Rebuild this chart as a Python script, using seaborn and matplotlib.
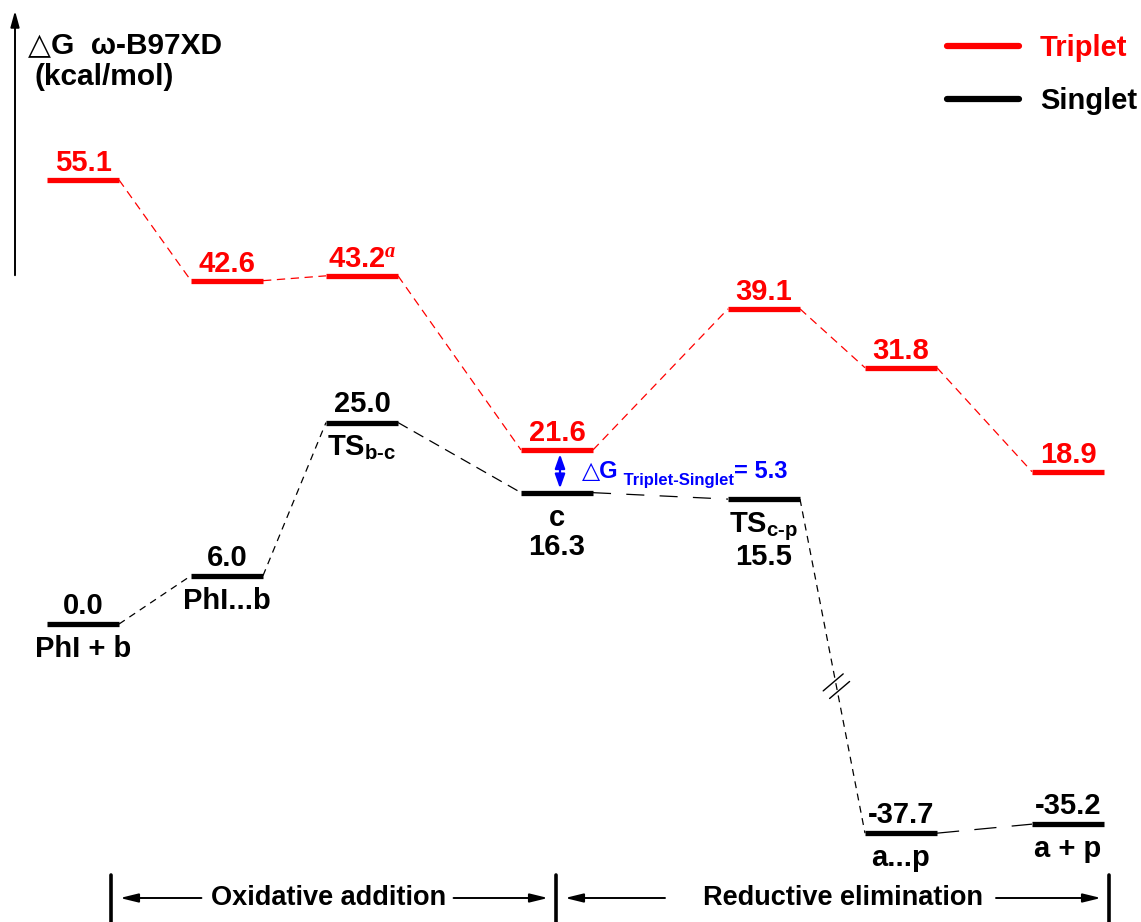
import numpy as np
import pandas as pd
import matplotlib
matplotlib.use("Agg")
import matplotlib.pyplot as plt
from matplotlib.lines import Line2D
from matplotlib.transforms import IdentityTransform
import seaborn as sns

# ---- data -------------------------------------------------------------
triplet_energy = [55.1, 42.6, 43.2, 21.6, 39.1, 31.8, 18.9]
singlet_energy = [0.0, 6.0, 25.0, 16.3, 15.5, -37.7, -35.2]
singlet_names = ["PhI + b", "PhI...b", "TS$_{\\text{b-c}}$", "c",
                 "TS$_{\\text{c-p}}$", "a...p", "a + p"]
triplet_marks = ["", "", "$^{\\mathit{a}}$", "", "", "", ""]
phase_names = ["Oxidative addition", "Reductive elimination"]
series_names = ["Triplet", "Singlet"]

# ---- layout ------------------------------------------------------------
rc_pos = [83, 227, 362, 557, 764, 901, 1068]      # reaction-coordinate slots
half_w = 36                                       # half width of a level
value_above = [True, True, True, False, False, True, True]
phase_bounds = [111, 556, 1109]
phase_centers = [329, 843]
phase_gaps = [(10, 7), (38, 13)]                 # space between text and arrows
BREAK, SQUEEZE = -16.4, 0.448                     # compress the deep region

RED, BLACK, BLUE = "#ff0000", "#000000", "#0000ff"

sns.set_theme(style="white")
plt.rcParams["font.family"] = ["Liberation Sans", "DejaVu Sans"]
plt.rcParams["font.weight"] = "bold"
plt.rcParams["mathtext.fontset"] = "custom"
plt.rcParams["mathtext.rm"] = "Liberation Sans:bold"
plt.rcParams["mathtext.bf"] = "Liberation Sans:bold"
plt.rcParams["mathtext.it"] = "Liberation Serif:italic"
plt.rcParams["lines.scale_dashes"] = False


def fwd(v):
    v = np.asarray(v, float)
    return np.where(v >= BREAK, v, BREAK + SQUEEZE * (v - BREAK))


def inv(u):
    u = np.asarray(u, float)
    return np.where(u >= BREAK, u, BREAK + (u - BREAK) / SQUEEZE)


fig = plt.figure(figsize=(11.41, 9.22), dpi=100)
ax = fig.add_axes([0, 0, 1, 1])
ax.set_yscale("function", functions=(fwd, inv))

# ---- energy levels -----------------------------------------------------
rows = []
for spin, energies in zip(series_names, [triplet_energy, singlet_energy]):
    for i, e in enumerate(energies):
        rows.append(dict(spin=spin, state=i, x=rc_pos[i] - half_w, energy=e))
        rows.append(dict(spin=spin, state=i, x=rc_pos[i] + half_w, energy=e))
levels = pd.DataFrame(rows)
sns.lineplot(data=levels, x="x", y="energy", hue="spin", units="state",
             estimator=None, sort=False, palette={"Triplet": RED, "Singlet": BLACK},
             linewidth=3.8, legend=False, ax=ax, solid_capstyle="butt")
ax.set_xlim(0, 1141)
ax.set_ylim(-62.3, 77.42)
ax.axis("off")

# ---- dashed connectors -------------------------------------------------
red_dash = (0, (6, 4))
black_dashes = [(0, (5, 4)), (0, (5, 4)), (0, (8, 5)), (0, (13, 11)),
                (0, (5, 4)), (0, (16, 11))]
for i in range(len(rc_pos) - 1):
    xs = [rc_pos[i] + half_w, rc_pos[i + 1] - half_w]
    ax.plot(xs, [triplet_energy[i], triplet_energy[i + 1]], color=RED,
            lw=0.9, linestyle=red_dash)
    ax.plot(xs, [singlet_energy[i], singlet_energy[i + 1]], color=BLACK,
            lw=0.9, linestyle=black_dashes[i])

# break mark on the long drop to the product complex
fig.canvas.draw()
p0 = ax.transData.transform((rc_pos[4] + half_w, singlet_energy[4]))
p1 = ax.transData.transform((rc_pos[5] - half_w, singlet_energy[5]))
pm = p0 + 0.56 * (p1 - p0)
d = np.array([10.0, 8.5])
n = np.array([3.2, -3.8])
for s in (-1, 1):
    c = pm + s * n
    ax.add_line(Line2D([c[0] - d[0], c[0] + d[0]], [c[1] - d[1], c[1] + d[1]],
                       color=BLACK, lw=1.0, transform=IdentityTransform()))

# ---- level labels ------------------------------------------------------
FS = 21
for i, e in enumerate(triplet_energy):
    ax.annotate(f"{e:.1f}{triplet_marks[i]}", xy=(rc_pos[i], e),
                xytext=(0, 2), textcoords="offset points", ha="center",
                va="bottom", color=RED, fontsize=FS, fontweight="bold")

for i, e in enumerate(singlet_energy):
    if value_above[i]:
        ax.annotate(f"{e:.1f}", xy=(rc_pos[i], e), xytext=(0, 3),
                    textcoords="offset points", ha="center", va="bottom",
                    color=BLACK, fontsize=FS, fontweight="bold")
        ax.annotate(singlet_names[i], xy=(rc_pos[i], e), xytext=(0, -8),
                    textcoords="offset points", ha="center", va="top",
                    color=BLACK, fontsize=FS, fontweight="bold")
    else:
        ax.annotate(singlet_names[i] + "\n" + f"{e:.1f}", xy=(rc_pos[i], e),
                    xytext=(0, -8), textcoords="offset points", ha="center",
                    va="top", color=BLACK, fontsize=FS, fontweight="bold",
                    linespacing=1.05, multialignment="center")

# ---- triplet-singlet gap at c ------------------------------------------
gap = triplet_energy[3] - singlet_energy[3]
ax.annotate("", xy=(rc_pos[3] + 3, singlet_energy[3]),
            xytext=(rc_pos[3] + 3, triplet_energy[3]),
            arrowprops=dict(arrowstyle="<|-|>,head_length=0.7,head_width=0.25",
                            color=BLUE, lw=1.6, shrinkA=3, shrinkB=3))
g1 = ax.annotate("△G", xy=(rc_pos[3] + 3, (triplet_energy[3] + singlet_energy[3]) / 2),
                 xytext=(16, 0), textcoords="offset points", ha="left",
                 va="center", color=BLUE, fontsize=17, fontweight="bold")
g2 = ax.annotate(" Triplet-Singlet", xy=(1, 0), xycoords=g1, xytext=(0, -4),
                 textcoords="offset points", ha="left", va="bottom",
                 color=BLUE, fontsize=12, fontweight="bold")
ax.annotate(f"= {gap:.1f}", xy=(1, 0), xycoords=g2, xytext=(0, 4),
            textcoords="offset points", ha="left", va="bottom",
            color=BLUE, fontsize=17, fontweight="bold")

# ---- axis arrow and title ----------------------------------------------
ax.annotate("", xy=(15, 922 - 8), xytext=(15, 922 - 278),
            xycoords="figure pixels", textcoords="figure pixels",
            arrowprops=dict(arrowstyle="-|>,head_length=0.8,head_width=0.22",
                            color=BLACK, lw=1.4))
fig.text(28 / 1141, 1 - 45 / 922, "△G  ω-B97XD", ha="left", va="center",
         fontsize=21.5, fontweight="bold", color=BLACK)
fig.text(35 / 1141, 1 - 77 / 922, "(kcal/mol)", ha="left", va="center",
         fontsize=21.5, fontweight="bold", color=BLACK)

# ---- legend ------------------------------------------------------------
handles = [Line2D([], [], color=RED, lw=4.5), Line2D([], [], color=BLACK, lw=4.5)]
leg = ax.legend(handles, series_names, loc="upper right",
                bbox_to_anchor=(1137 / 1141, 1 - 34 / 922),
                bbox_transform=fig.transFigure, frameon=False,
                handlelength=2.5, handletextpad=0.7, labelspacing=0.85,
                borderaxespad=0, borderpad=0,
                prop=dict(family="Liberation Sans", weight="bold", size=21))
for t, col in zip(leg.get_texts(), [RED, BLACK]):
    t.set_color(col)

# ---- reaction phases ---------------------------------------------------
y_ph = 1 - 898 / 922
for xb in phase_bounds:
    fig.add_artist(Line2D([xb / 1141] * 2, [0, 1 - 875 / 922], color=BLACK,
                          lw=2.6, transform=fig.transFigure))
arrow_kw = dict(arrowstyle="-|>,head_length=0.9,head_width=0.22", color=BLACK,
                lw=1.4, shrinkA=0, shrinkB=0)
for k, name in enumerate(phase_names):
    left, right = phase_bounds[k], phase_bounds[k + 1]
    txt = fig.text(phase_centers[k] / 1141, y_ph, name, ha="center", va="center",
                   fontsize=19.5, fontweight="bold", color=BLACK)
    fig.canvas.draw()
    bb = txt.get_window_extent()
    gl, gr = phase_gaps[k]
    ax.annotate("", xy=((left + 9) / 1141, y_ph), xytext=((bb.x0 - gl) / 1141, y_ph),
                xycoords="figure fraction", textcoords="figure fraction",
                arrowprops=arrow_kw)
    ax.annotate("", xy=((right - 8) / 1141, y_ph), xytext=((bb.x1 + gr) / 1141, y_ph),
                xycoords="figure fraction", textcoords="figure fraction",
                arrowprops=arrow_kw)

fig.savefig("out.png", dpi=100, facecolor="white")
